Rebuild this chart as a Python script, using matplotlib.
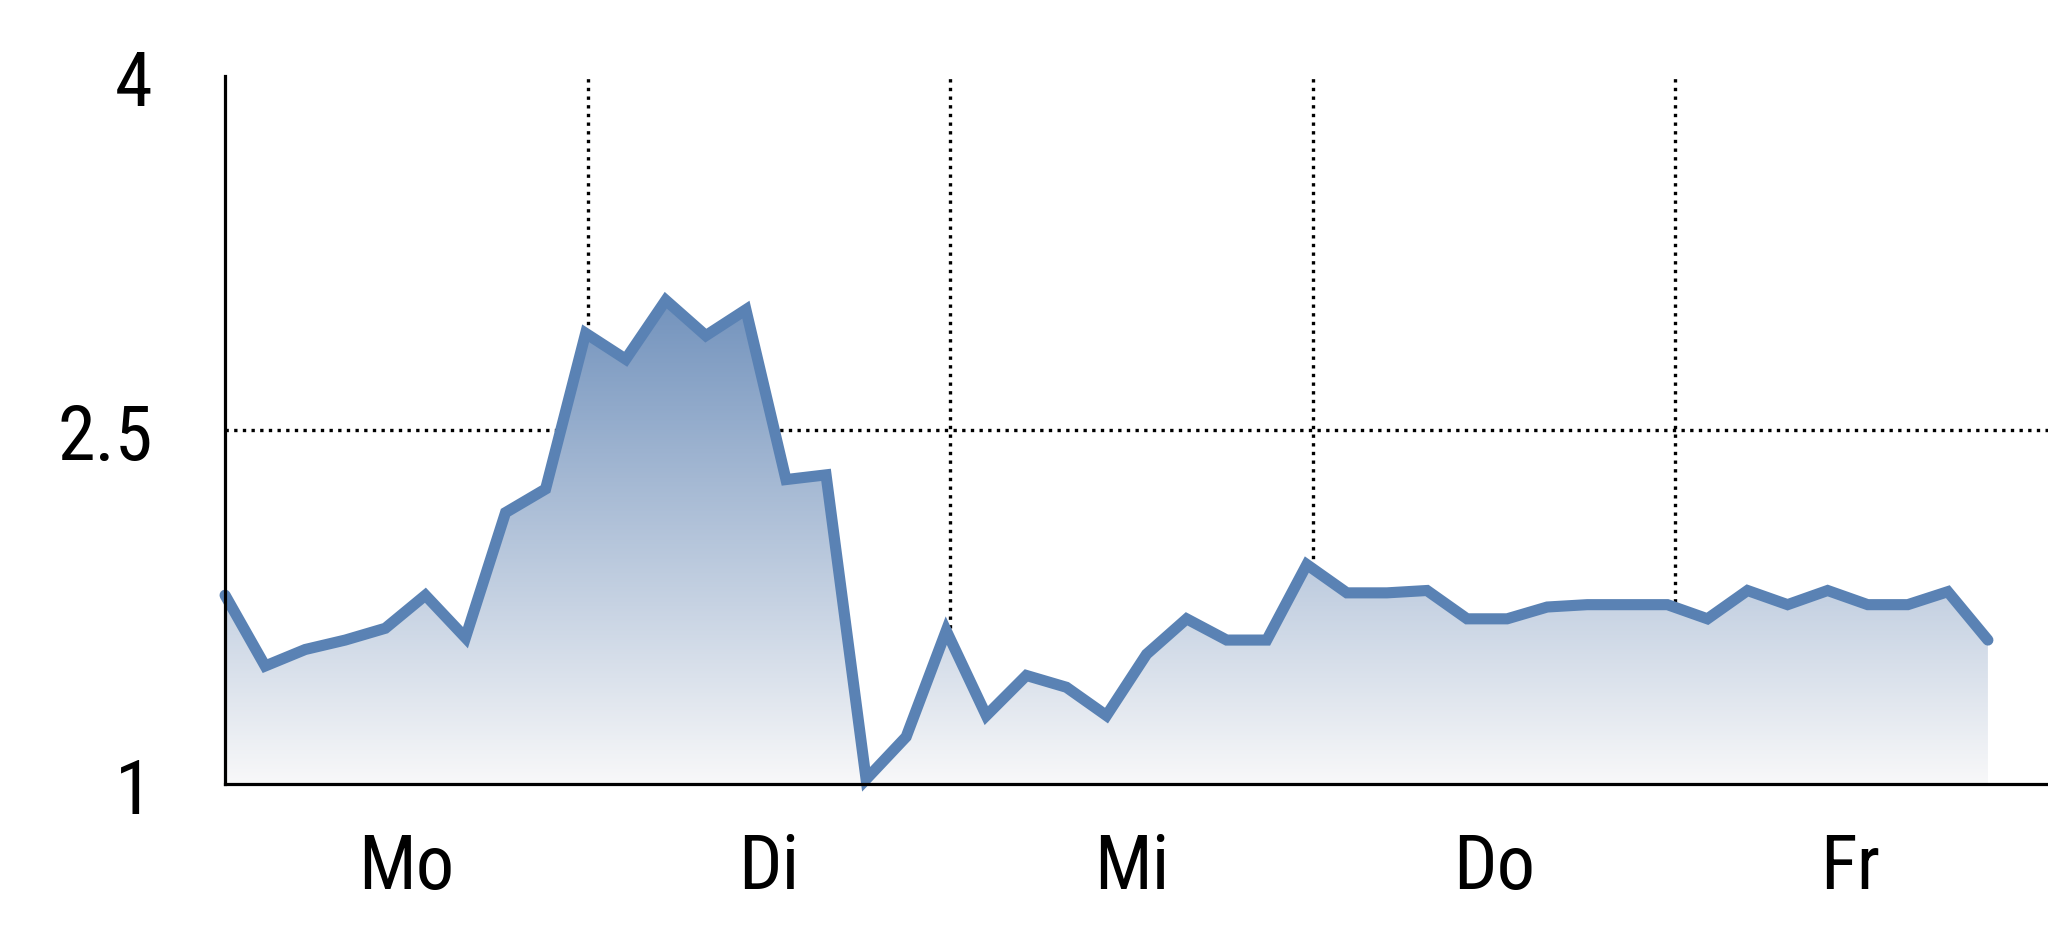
import numpy as np
import matplotlib
matplotlib.use('Agg')
import matplotlib.pyplot as plt
from matplotlib.colors import LinearSegmentedColormap
from matplotlib.patches import Polygon

plt.rcParams['font.family'] = ['Roboto Condensed', 'Liberation Sans', 'DejaVu Sans']

# werte, 9 punkte pro tag
values = [1.80, 1.50, 1.57, 1.61, 1.66, 1.80, 1.62, 2.15, 2.25, 2.91,
          2.80, 3.05, 2.90, 3.01, 2.29, 2.31, 1.02, 1.20, 1.65, 1.29,
          1.46, 1.41, 1.29, 1.55, 1.70, 1.61, 1.61, 1.93, 1.81, 1.81,
          1.82, 1.70, 1.70, 1.75, 1.76, 1.76, 1.76, 1.70, 1.82, 1.76,
          1.82, 1.76, 1.76, 1.815, 1.61]
days = ['Mo', 'Di', 'Mi', 'Do', 'Fr']
day_bounds = [0, 9.05, 18.1, 27.15, 36.2, 44.9]
y_ticks = [1, 2.5, 4]
y_labels = ['1', '2.5', '4']

x = np.arange(len(values))
line_col = '#5a82b4'
dots = (0, (1, 1.6))

fig = plt.figure(figsize=(20.48, 9.37), dpi=100)
ax = fig.add_axes([0.1099, 0.1622, 0.8901, 0.7556])

# gitterlinien (liegen hinter der flaeche)
for b in day_bounds[1:-1]:
    ax.axvline(b, color='black', lw=2.4, linestyle=dots, zorder=1)
ax.axhline(2.5, color='black', lw=2.4, linestyle=dots, zorder=1)

# verlaufsflaeche
cmap = LinearSegmentedColormap.from_list('blau', ['#f8f8f9', '#7393bd'])
grad = np.linspace(0, 1, 256).reshape(-1, 1)
im = ax.imshow(grad, extent=[x[0], x[-1], 1, max(values)], origin='lower',
               cmap=cmap, aspect='auto', zorder=2)
verts = [(x[0], 1)] + list(zip(x, values)) + [(x[-1], 1)]
poly = Polygon(verts, closed=True, facecolor='none', edgecolor='none',
               transform=ax.transData)
ax.add_patch(poly)
im.set_clip_path(poly)

ax.plot(x, values, color=line_col, lw=8, solid_joinstyle='miter',
        solid_capstyle='round', zorder=3, clip_on=False)

ax.set_xlim(0, 45.5)
ax.set_ylim(1, 4)

for s in ['top', 'right']:
    ax.spines[s].set_visible(False)
for s in ['left', 'bottom']:
    ax.spines[s].set_linewidth(2.3)
    ax.spines[s].set_color('black')
    ax.spines[s].set_zorder(4)

mids = [(day_bounds[i] + day_bounds[i + 1]) / 2 for i in range(len(days))]
ax.set_xticks(mids)
ax.set_xticklabels(days)
ax.set_yticks(y_ticks)
ax.set_yticklabels(y_labels)
ax.tick_params(axis='x', length=0, pad=34, labelsize=55)
ax.tick_params(axis='y', length=0, pad=52, labelsize=55)

fig.savefig('out.png', dpi=100, facecolor='white')
